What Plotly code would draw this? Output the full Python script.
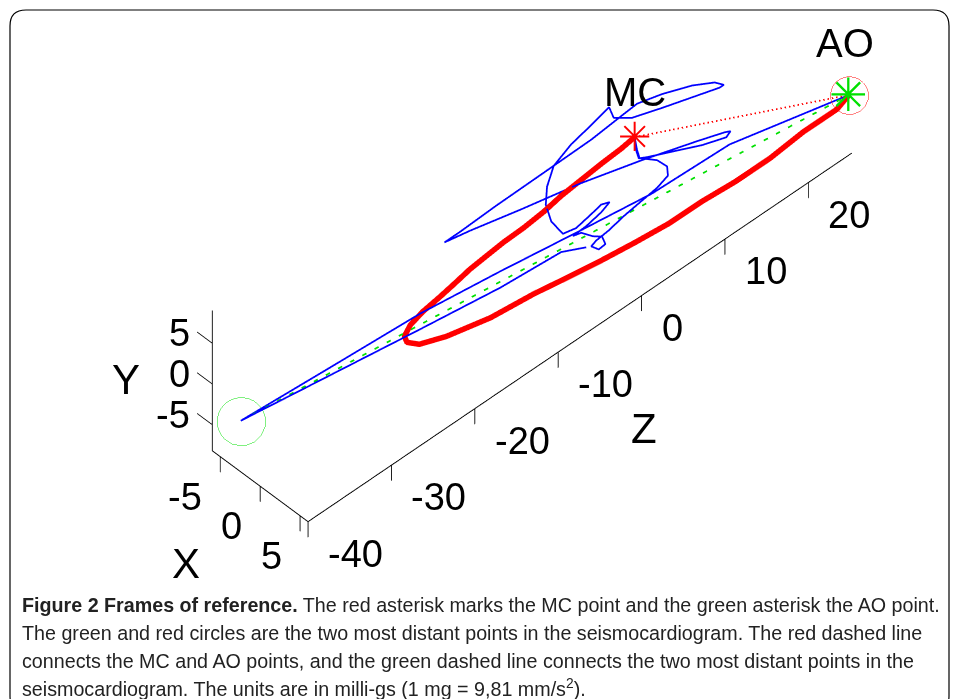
import plotly.graph_objects as go

# ---- seismocardiogram trajectory (milli-g) ----
# blue: full 3D trajectory (gap between the two pieces shown in red)
blue_x = [0, 0, 0, 0, 0, 0, 0, 0, 0, 0, 0, 0, 0, 0, 0, 0, 0, 0, 0, 0, 0, 0, 0, 0, 0,
          0, 0, 0, 0, 0, -1, -1, 0, 0, 0, 0, 0, 0, 0, 0, 0, 0, 0, 0, 0, 0, 0, 0, 0, 0,
          0, 0, 0, 0, 0, 0, 0, 0, 0, 0, 0, 0,
          None,
          5.8, 4.5, 3, 2, 0.5, -1, -2.5, -4, -3, -1.5, -0.5, 0, 0]
blue_y = [3.5, 1.7, 0.5, -1.2, -2.8, -4.0, -4.6, -4.9, -5.3, -5.8, -6.0, -6.3, -7.3, -7.2,
          -6.0, -5.2, -3.8, -3.5, -3.4, -2.95, -2.4, -2.0, -2.35, -2.8, -2.4, 0.1, 2.6, 4.7,
          6.7, 7.9, 7.2, 7.9, 7.6, 6.1, 4.8, 3.4, 2.5, 2.5, 3.55, 5.05, 6.5, 7.4, 7.2, 6.8,
          6.7, 6.6, 6.4, 6.4, 5.7, 4.1, 2.3, 0.06, -2.2, -3.4, -3.75, -4.15, -3.1, -1.4,
          0.0, 0.55, 2.05, 3.5,
          None,
          -1.1, 0.95, -0.7, -0.7, -1.1, -1.7, -2.9, -4.1, -3.9, -4.3, -4.5, -4.5, -6.0]
blue_z = [4.9, 5.2, 5.5, 7.6, 8.8, 8.9, 7.6, 5.8, 3.6, 1.8, 0.3, -0.3, 0.6, 1.4, 1.0, -0.1,
          -1.5, -2.5, -0.9, 0.9, 1.9, 0.9, -0.3, -2.1, -3.7, -5.1, -5.75, -5.6, -4.8, -2.7,
          0.66, 2.8, 2.4, 4.55, 8.2, 12.4, 15.1, 15.6, 14.5, 11.8, 8.2, 5.2, 3.3, -0.3,
          -5.75, -11.8, -16.05, -17.9, -14.8, -8.8, -1.5, 5.8, 12.4, 15.7, 16.4, 15.9,
          13.0, 9.4, 6.4, 5.4, 5.0, 4.9,
          None,
          25.06, 12.0, 4.1, -3.4, -11.7, -19.9, -29.4, -38.5, -32.6, -19.5, -10.7, -3.9, -0.9]

# red: segment from MC to AO
red_x = [0, 0, 0, 0, 0, 0, 0, 0, 0, 0, 0, 0, 0, 0, 0, 0, 0.3, 0.8, 1.5, 2.2, 2.6, 3, 3.5,
         4, 4.5, 5, 5.3, 5.5, 5.7, 5.8]
red_y = [3.5, 3.2, 3.0, 2.7, 2.4, 1.9, 1.6, 1.5, 1.25, 0.98, 0.5, 0.08, -0.3, -0.9, -1.8,
         -2.75, -3.6, -4.2, -4.6, -4.3, -4.5, -4.7, -4.6, -4.4, -3.75, -3.4, -3.0, -2.25,
         -2.0, -1.1]
red_z = [4.9, 3.3, 0.9, -1.5, -3.9, -6.0, -8.4, -10.8, -12.8, -14.85, -16.7, -18.5, -20.5,
         -22.0, -22.7, -22.4, -21.2, -18.4, -13.8, -9.3, -5.8, -2.0, 1.55, 5.2, 8.7, 12.2,
         16.1, 19.9, 23.7, 25.06]

# characteristic points
mc = dict(x=0.0, y=3.5, z=4.9)        # MC point
ao = dict(x=5.8, y=-1.1, z=25.06)     # AO point (also one of the two most distant points)
far = dict(x=-4.0, y=-4.1, z=-38.5)   # other most distant point

x_ticks = [-5, 0, 5]
y_ticks = [-5, 0, 5]
z_ticks = [-40, -30, -20, -10, 0, 10, 20]
x_range = [-6, 6]
y_range = [-8.2, 9.0]
z_range = [-40, 25.2]

caption_lines = [
    "<b>Figure 2 Frames of reference.</b> The red asterisk marks the MC point and the green asterisk the AO point.",
    "The green and red circles are the two most distant points in the seismocardiogram. The red dashed line",
    "connects the MC and AO points, and the green dashed line connects the two most distant points in the",
    "seismocardiogram. The units are in milli-gs (1 mg = 9,81 mm/s<sup>2</sup>).",
]

fig = go.Figure()
fig.add_trace(go.Scatter3d(x=blue_x, y=blue_y, z=blue_z, mode="lines",
                           line=dict(color="#0000ff", width=3.5), connectgaps=False,
                           hoverinfo="skip"))
fig.add_trace(go.Scatter3d(x=red_x, y=red_y, z=red_z, mode="lines",
                           line=dict(color="#ff0000", width=11), hoverinfo="skip"))
fig.add_trace(go.Scatter3d(x=[mc["x"], ao["x"]], y=[mc["y"], ao["y"]], z=[mc["z"], ao["z"]],
                           mode="lines", line=dict(color="#ff0000", width=3.5, dash="dash"),
                           hoverinfo="skip"))
fig.add_trace(go.Scatter3d(x=[far["x"], ao["x"]], y=[far["y"], ao["y"]], z=[far["z"], ao["z"]],
                           mode="lines", line=dict(color="#00e000", width=3.5, dash="dash"),
                           hoverinfo="skip"))
fig.add_trace(go.Scatter3d(x=[far["x"]], y=[far["y"]], z=[far["z"]], mode="markers",
                           marker=dict(symbol="circle", size=28, color="rgba(255,255,255,0)",
                                       line=dict(color="#00e000", width=1.6)),
                           hoverinfo="skip"))
fig.add_trace(go.Scatter3d(x=[ao["x"]], y=[ao["y"]], z=[ao["z"]], mode="markers",
                           marker=dict(symbol="circle", size=22, color="rgba(255,255,255,0)",
                                       line=dict(color="#ff0000", width=1.6)),
                           hoverinfo="skip"))

FONT = "Liberation Sans, Arial, sans-serif"
tick_font = dict(family=FONT, size=38, color="black")
title_font = dict(family=FONT, size=42, color="black")
ax_common = dict(showgrid=False, showbackground=False, zeroline=False, showline=True,
                 linecolor="black", linewidth=2, ticks="outside", ticklen=22,
                 tickcolor="black", tickwidth=2, showticklabels=False, showspikes=False,
                 autorange=False, title=dict(text=""))

# camera: orthographic view; look-at point chosen so the box sits where the original does
zoom = 2.153
span = max(x_range[1] - x_range[0], y_range[1] - y_range[0], z_range[1] - z_range[0])
k = zoom / span                           # normalised scene units per data unit
look_offset = (2.068, -7.191, -8.278)     # data units from box centre to view centre
cen = dict(x=look_offset[0] * k, y=look_offset[1] * k, z=look_offset[2] * k)
eye_dir = (-0.51, -0.7085, 0.488)
r = 6.0

# tick labels and axis titles placed at their 3D positions on the axis edges
annos = []
for v in x_ticks:
    annos.append(dict(x=v, y=y_range[0], z=z_range[0], text=str(v), showarrow=False,
                      xanchor="right", xshift=-16, yshift=-40, font=tick_font))
for v in y_ticks:
    annos.append(dict(x=x_range[0], y=v, z=z_range[0], text=str(v), showarrow=False,
                      xanchor="right", xshift=-20, yshift=10, font=tick_font))
for v in z_ticks:
    annos.append(dict(x=x_range[1], y=y_range[0], z=v, text=str(v), showarrow=False,
                      xanchor="left", xshift=18, yshift=-32, font=tick_font))
annos += [
    dict(x=0, y=y_range[0], z=z_range[0], text="X", showarrow=False, xshift=-74, yshift=-77,
         font=title_font),
    dict(x=x_range[0], y=0, z=z_range[0], text="Y", showarrow=False, xshift=-86, yshift=5,
         font=title_font),
    dict(x=x_range[1], y=y_range[0], z=-10, text="Z", showarrow=False, xshift=86, yshift=-76,
         font=title_font),
    dict(x=ao["x"], y=ao["y"], z=ao["z"], text="AO", showarrow=False, yshift=52, xshift=-4,
         font=dict(family=FONT, size=40, color="black")),
    dict(x=mc["x"], y=mc["y"], z=mc["z"], text="MC", showarrow=False, yshift=45,
         font=dict(family=FONT, size=40, color="black")),
    dict(x=mc["x"], y=mc["y"], z=mc["z"], text="✳", showarrow=False,
         font=dict(family="DejaVu Sans", size=40, color="#ff0000")),
    dict(x=ao["x"], y=ao["y"], z=ao["z"], text="✳", showarrow=False,
         font=dict(family="DejaVu Sans", size=46, color="#00e000")),
]

fig.update_layout(
    width=959, height=699, margin=dict(l=0, r=0, t=0, b=0),
    paper_bgcolor="white", showlegend=False,
    scene=dict(
        domain=dict(x=[0, 1], y=[0, 1]),
        xaxis=dict(ax_common, range=x_range, tickvals=x_ticks),
        yaxis=dict(ax_common, range=y_range, tickvals=y_ticks),
        zaxis=dict(ax_common, range=z_range, tickvals=z_ticks),
        aspectmode="manual",
        aspectratio=dict(x=zoom * (x_range[1] - x_range[0]) / span,
                         y=zoom * (y_range[1] - y_range[0]) / span,
                         z=zoom * (z_range[1] - z_range[0]) / span),
        camera=dict(center=cen,
                    eye=dict(x=cen["x"] + eye_dir[0] * r, y=cen["y"] + eye_dir[1] * r,
                             z=cen["z"] + eye_dir[2] * r),
                    up=dict(x=0, y=1, z=0),
                    projection=dict(type="orthographic")),
        annotations=annos,
    ),
)

line_y = [605, 633, 661, 688]
for txt, yy in zip(caption_lines, line_y):
    fig.add_annotation(xref="paper", yref="paper", x=20 / 959, y=1 - yy / 699,
                       xanchor="left", yanchor="middle", align="left", showarrow=False,
                       text=txt, font=dict(family=FONT, size=19.7, color="#222222"))

# rounded border of the figure panel
L, R, T, B, rad = 10 / 959, 949 / 959, 1 - 10 / 699, 1 - 712 / 699, 16
rx, ry = rad / 959, rad / 699
path = (f"M {L + rx} {T} L {R - rx} {T} Q {R} {T} {R} {T - ry} L {R} {B + ry} "
        f"Q {R} {B} {R - rx} {B} L {L + rx} {B} Q {L} {B} {L} {B + ry} L {L} {T - ry} "
        f"Q {L} {T} {L + rx} {T} Z")
fig.add_shape(type="path", xref="paper", yref="paper", path=path,
              line=dict(color="black", width=1.2))

fig.write_html("out.html", config={"displayModeBar": False},
               post_script="document.body.style.margin='0px';")
